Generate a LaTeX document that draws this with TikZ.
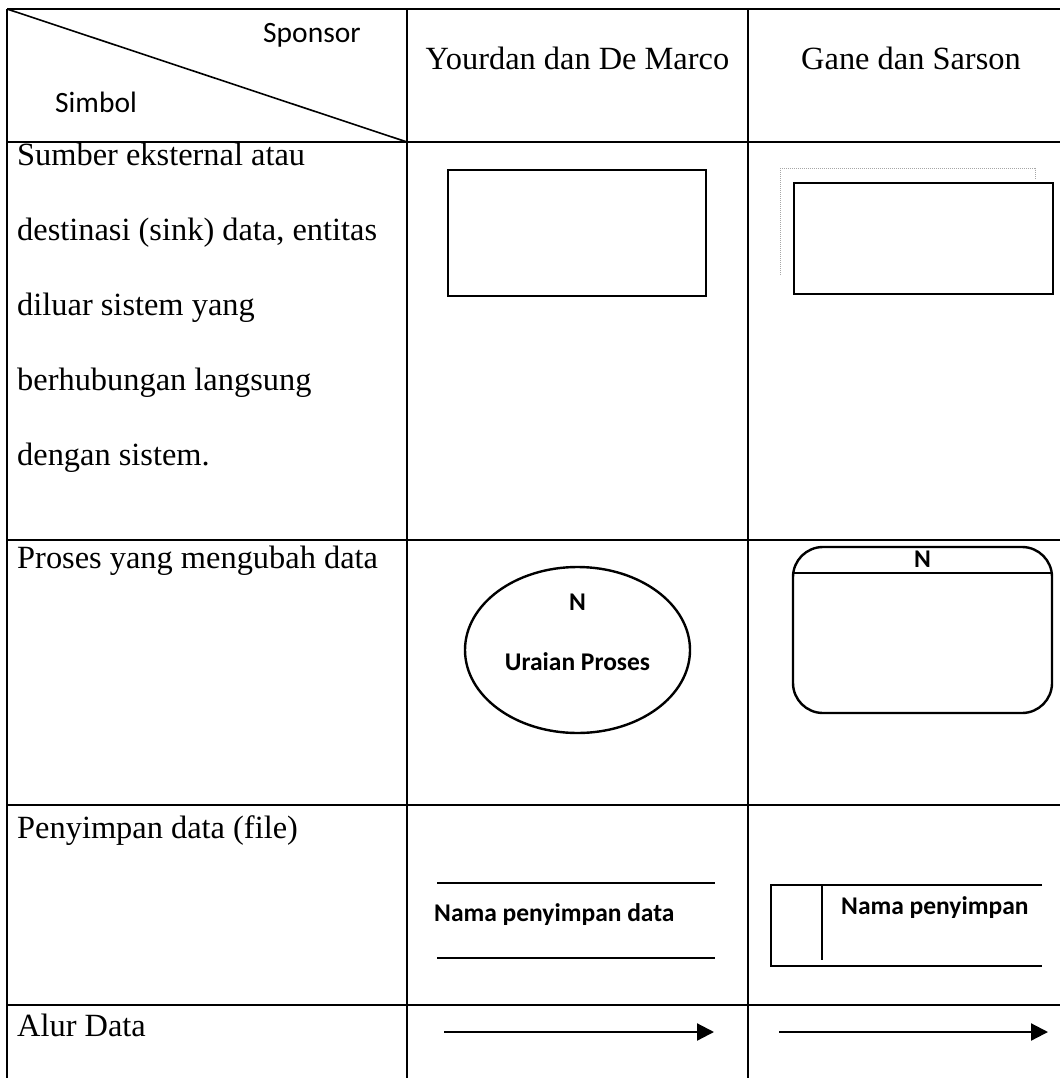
\documentclass[tikz,border=0pt]{standalone}
\usepackage{fontspec}
\setmainfont{Liberation Serif}
\newfontfamily\calibfont{Carlito}
\usetikzlibrary{arrows.meta,shapes.geometric}
\begin{document}
\begin{tikzpicture}[x=1pt,y=-1pt,
  gridline/.style={line width=2pt},
  symbolbox/.style={draw, line width=2.4pt, inner sep=0pt},
  bodytext/.style={font=\fontsize{32.4}{75}\selectfont, inner sep=0pt, anchor=base west, align=left},
  headtext/.style={font=\fontsize{32.4}{61}\selectfont, inner sep=0pt, anchor=base},
  corner/.style={font=\calibfont\fontsize{29.5}{34}\selectfont, inner sep=0pt, anchor=base west},
  label/.style={font=\calibfont\bfseries\fontsize{25.5}{30}\selectfont, inner sep=0pt},
  flow/.style={line width=2.2pt, -{Triangle[length=17pt,width=17pt]}}]
\useasboundingbox (0,0) rectangle (1060,1078);

% table grid
\draw[gridline] (7,9) -- (1060,9);
\draw[gridline] (7,9) -- (7,1078);
\draw[gridline] (407,9) -- (407,1078);
\draw[gridline] (748,9) -- (748,1078);
\draw[gridline] (7,142) -- (1060,142);
\draw[gridline] (7,540) -- (1060,540);
\draw[gridline] (7,805) -- (1060,805);
\draw[gridline] (7,1005) -- (1060,1005);
\draw[line width=1.6pt] (7,9) -- (407,142);

% header
\node[corner] (sponsor) at (263,43) {Sponsor};
\node[corner] (simbol) at (55,113) {Simbol};
\node[headtext] (yourdan) at (577.5,70) {Yourdan dan De Marco};
\node[headtext] (gane) at (911,70) {Gane dan Sarson};

% first column (base anchor sits on the last line of a multi-line node)
\node[bodytext] (sumber) at (17,465) {Sumber eksternal atau\\destinasi (sink) data, entitas\\diluar sistem yang\\berhubungan langsung\\dengan sistem.};
\node[bodytext] (proses) at (17,568) {Proses yang mengubah data};
\node[bodytext] (penyimpan) at (17,838) {Penyimpan data (file)};
\node[bodytext] (alur) at (17,1036) {Alur Data};

% external entity
\node[symbolbox, minimum width=258pt, minimum height=126pt] (extA) at (577,233) {};
\draw[gray!70, line width=1pt, densely dotted] (780,275) -- (780,169) -- (1035,169) -- (1035,180);
\node[symbolbox, fill=white, minimum width=259pt, minimum height=111pt] (extB) at (923.5,238.5) {};

% process
\node[symbolbox, ellipse, minimum width=225pt, minimum height=166pt] (procA) at (577.5,650) {};
\node[label] (procAn) at (577.5,602) {N};
\node[label] (procAt) at (577.5,662) {Uraian Proses};
\node[symbolbox, rounded corners=30pt, minimum width=259pt, minimum height=166pt] (procB) at (922.5,630) {};
\draw[line width=2pt] (procB.west |- 0,573) -- (procB.east |- 0,573);
\node[label] (procBn) at (922.5,559) {N};

% data store
\draw[line width=2pt] (437,883) -- (715,883);
\draw[line width=2pt] (437,958) -- (715,958);
\node[label, anchor=base west] (storeA) at (434,921) {Nama penyimpan data};
\draw[line width=2.2pt] (1042,885) -- (771,885) -- (771,966) -- (1042,966);
\draw[line width=2pt] (822,885) -- (822,960);
\node[label, anchor=base west] (storeB) at (841,914) {Nama penyimpan};

% data flow
\coordinate (fA1) at (444,1032);
\coordinate (fA2) at (714,1032);
\coordinate (fB1) at (779,1032);
\coordinate (fB2) at (1048,1032);
\draw[flow] (fA1) -- (fA2);
\draw[flow] (fB1) -- (fB2);
\end{tikzpicture}
\end{document}
